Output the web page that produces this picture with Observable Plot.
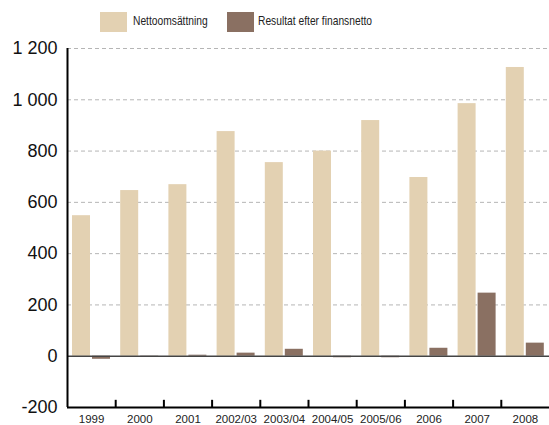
<!DOCTYPE html>
<html>
<head>
<meta charset="utf-8">
<script src="https://cdn.jsdelivr.net/npm/d3@7"></script>
<script src="https://cdn.jsdelivr.net/npm/@observablehq/plot@0.6"></script>
<style>
  body { margin: 0; background: #fff; }
  #wrap { width: 549px; }
  #legend { height: 30px; position: relative; z-index: 1; font-family: "Liberation Sans", Arial, sans-serif; font-size: 13.5px; color: #222; }
  .sw { position: absolute; top: 12px; width: 27px; height: 20px; }
  .lt { position: absolute; top: 13px; transform: scaleX(0.76); transform-origin: 0 0; white-space: nowrap; }
</style>
</head>
<body>
<div id="wrap">
  <div id="legend">
    <div class="sw" style="left:100px;background:#E3D1B2"></div>
    <div class="lt" style="left:133px">Nettoomsättning</div>
    <div class="sw" style="left:227px;background:#8A7062"></div>
    <div class="lt" style="left:258px">Resultat efter finansnetto</div>
  </div>
  <div id="chart"></div>
</div>
<script>
const categories = ["1999", "2000", "2001", "2002/03", "2003/04", "2004/05", "2005/06", "2006", "2007", "2008"];
const nettoomsattning = [548, 646, 669, 876, 755, 800, 919, 697, 985, 1126];
const resultat = [-12, -2, 4, 12, 27, -6, -6, 31, 246, 51];
const yTicks = [-200, 0, 200, 400, 600, 800, 1000, 1200];
const gridTicks = [200, 400, 600, 800, 1000, 1200];

const beige = "#E3D1B2";
const brown = "#8A7062";

const rows = categories.map((c, i) => ({i, cat: c, netto: nettoomsattning[i], res: resultat[i]}));
const fmt = v => d3.format(",")(v).replace(/,/g, " ").replace("\u2212", "-");

const chart = Plot.plot({
  width: 549,
  height: 395,
  marginTop: 18,
  marginBottom: 18,
  marginLeft: 67,
  marginRight: 0,
  x: {domain: [0, categories.length], axis: null},
  y: {domain: [-200, 1200], axis: null},
  marks: [
    Plot.gridY(gridTicks, {stroke: "#b5b5b5", strokeOpacity: 1, strokeDasharray: "4,3"}),
    Plot.rectY(rows, {x1: "i", x2: d => d.i + 1, y1: 0, y2: "netto", fill: beige, insetLeft: 5, insetRight: 25.2}),
    Plot.rectY(rows, {x1: "i", x2: d => d.i + 1, y1: 0, y2: "res", fill: brown, insetLeft: 25, insetRight: 5.2}),
    Plot.ruleY([0], {stroke: "#444", strokeWidth: 1.5}),
    Plot.ruleX([0], {y1: -200, y2: 1200, stroke: "#000", strokeWidth: 2}),
    Plot.ruleY([-200], {stroke: "#000", strokeWidth: 2}),
    Plot.ruleX(d3.range(1, categories.length), {y1: -200, y2: -172, stroke: "#000", strokeWidth: 2}),
    Plot.axisY(yTicks, {tickSize: 0, tickPadding: 10, tickFormat: fmt, fontSize: 18, fontFamily: "Liberation Sans, Arial, sans-serif", fill: "#111", label: null}),
    Plot.axisX(categories.map((c, i) => i + 0.5), {tickSize: 0, tickPadding: 7, tickFormat: v => categories[Math.floor(v)], fontSize: 11.5, fontFamily: "Liberation Sans, Arial, sans-serif", fill: "#222", label: null, ariaLabel: "xlabels"})
  ]
});
// condense the x tick labels horizontally (no condensed font installed)
d3.select(chart).selectAll('g[aria-label="xlabels"] text').each(function() {
  const t = d3.select(this);
  const tr = t.attr("transform");
  if (tr) {
    t.attr("transform", tr + " scale(0.78,1)");
  } else {
    const x = +t.attr("x") || 0, y = +t.attr("y") || 0;
    t.attr("x", null).attr("y", null).attr("transform", `translate(${x},${y}) scale(0.78,1)`);
  }
});
document.getElementById("chart").appendChild(chart);
</script>
</body>
</html>
